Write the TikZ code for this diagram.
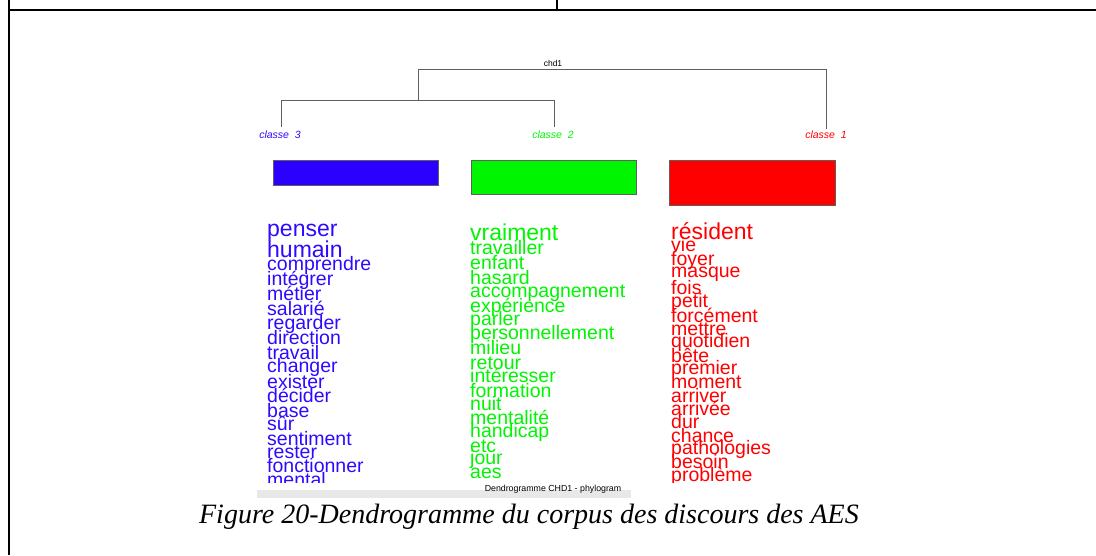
\documentclass[tikz,border=0pt]{standalone}
\usepackage{fontspec}
\setmainfont{Liberation Serif}
\newfontfamily\arial{Liberation Sans}
\definecolor{cblue}{RGB}{45,10,255}
\definecolor{cbluebox}{RGB}{43,0,255}
\definecolor{cgreen}{RGB}{0,245,0}
\definecolor{cred}{RGB}{255,0,0}
\definecolor{treegray}{RGB}{95,95,95}
\definecolor{barc}{RGB}{232,232,232}
\tikzset{
  frame/.style={line width=2pt, black},
  tree/.style={line width=0.9pt, treegray},
  wordn/.style={font=\arial\fontsize{19.5}{19.5}\selectfont, anchor=base west, inner sep=0pt},
  wordbig/.style={font=\arial\fontsize{23}{23}\selectfont, anchor=base west, inner sep=0pt},
  clslabel/.style={font=\arial\itshape\fontsize{10.5}{10.5}\selectfont, inner sep=0pt},
  clsbox/.style={draw=treegray, line width=0.6pt},
}
\begin{document}
\begin{tikzpicture}[x=1pt,y=-1pt]
\useasboundingbox (0,0) rectangle (1096,555);
% frame
\coordinate (fl0) at (8.5,0);
\coordinate (fl1) at (8.5,555);
\coordinate (ft0) at (7.5,10);
\coordinate (ft1) at (1096,10);
\coordinate (fd0) at (557,0);
\coordinate (fd1) at (557,10);
\draw[frame] (fl0) -- (fl1);
\draw[frame] (ft0) -- (ft1);
\draw[frame] (fd0) -- (fd1);

% dendrogram
\node[font=\arial\fontsize{8.5}{8.5}\selectfont, inner sep=0pt] (chd) at (553,63) {chd1};
\coordinate (r) at (418,69.5);
\coordinate (rr) at (826,69.5);
\coordinate (m) at (418,100);
\coordinate (ml) at (281,100);
\coordinate (mr) at (554,100);
\coordinate (l3) at (281,127);
\coordinate (l2) at (554,127);
\coordinate (l1) at (826,129);
\draw[tree] (m) -- (r) -- (rr) -- (l1);
\draw[tree] (l3) -- (ml) -- (mr) -- (l2);

\node[clslabel, text=cblue] (c3) at (280,135) {classe\ \ 3};
\node[clslabel, text=cgreen] (c2) at (553,135) {classe\ \ 2};
\node[clslabel, text=cred] (c1) at (826,135) {classe\ \ 1};

\fill[cbluebox] (273,160) rectangle (438,185);
\draw[clsbox] (273,160) rectangle (438,185);
\fill[cgreen] (471,160) rectangle (636,194);
\draw[clsbox] (471,160) rectangle (636,194);
\fill[cred] (669,160) rectangle (835,205);
\draw[clsbox] (669,160) rectangle (835,205);

% bottom bar
\fill[barc] (257,490) rectangle (631,498);
\node[font=\arial\fontsize{8.8}{8.8}\selectfont, inner sep=0pt] (dtitle) at (553,489) {Dendrogramme CHD1 - phylogram};

% word lists
\begin{scope}
\clip (250,200) rectangle (900,482.5);
% blue
\node[wordbig, text=cblue] (b1) at (267,236) {penser};
\node[wordbig, text=cblue] (b2) at (267,257) {humain};
\foreach \w/\y [count=\i from 3] in {comprendre/270, intégrer/285, métier/300, salarié/315, regarder/329, direction/344, travail/359, changer/372, exister/388, décider/402, base/417, sûr/430, sentiment/445, rester/458, fonctionner/472, mental/486}
  \node[wordn, text=cblue] (b\i) at (267,\y) {\w};
% green
\node[wordbig, text=cgreen] (g1) at (470,240) {vraiment};
\foreach \w/\y [count=\i from 2] in {travailler/254, enfant/269, hasard/284, accompagnement/297, expérience/312, parler/325, personnellement/339, milieu/354, retour/369, intéresser/382, formation/397, nuit/410, mentalité/424, handicap/437, etc/452, jour/464, aes/478}
  \node[wordn, text=cgreen] (g\i) at (470,\y) {\w};
% red
\node[wordbig, text=cred] (rw1) at (671,239) {résident};
\foreach \w/\y [count=\i from 2] in {vie/251, foyer/265, masque/277, fois/294, petit/307, forcément/322, mettre/335, quotidien/347, bête/362, premier/374, moment/388, arriver/402, arrivée/415, dur/428, chance/442, pathologies/454, besoin/468, problème/481}
  \node[wordn, text=cred] (rw\i) at (671,\y) {\w};
\end{scope}

% caption
\node[font=\itshape\fontsize{28}{28}\selectfont, anchor=base, inner sep=0pt] (cap) at (529,523) {Figure 20-Dendrogramme du corpus des discours des AES};
\end{tikzpicture}
\end{document}
